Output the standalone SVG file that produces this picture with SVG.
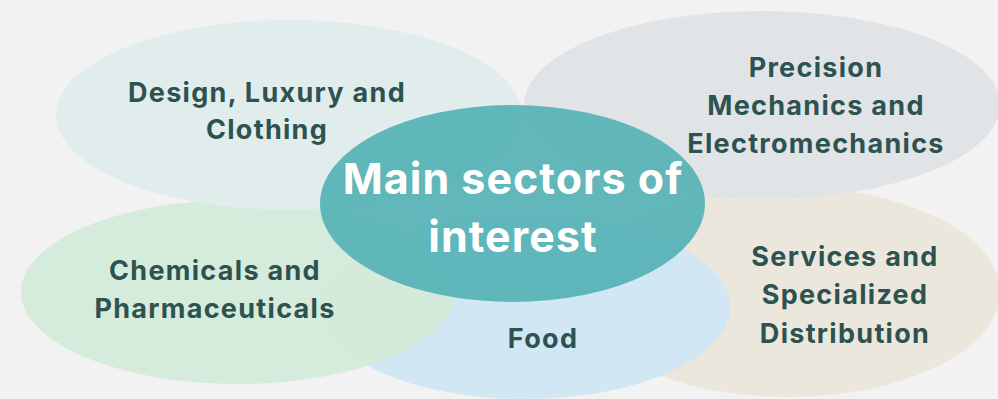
<svg xmlns="http://www.w3.org/2000/svg" width="998" height="399" viewBox="0 0 998 399">
  <style>
    .sector { font-family: Inter, "Open Sans", "Liberation Sans", sans-serif; font-weight: 700; font-size: 27px; letter-spacing: 1.3px; fill: #2d5250; text-anchor: middle; }
    .core { font-family: Inter, "Open Sans", "Liberation Sans", sans-serif; font-weight: 700; font-size: 43px; letter-spacing: 1px; fill: #ffffff; text-anchor: middle; }
  </style>
  <rect width="998" height="399" fill="#f2f2f2"/>

  <!-- outer sector bubbles, back to front -->
  <g id="services">
    <ellipse cx="788" cy="292" rx="212" ry="105" fill="#ebe7dd"/>
    <text class="sector" x="845"><tspan y="266">Services and</tspan><tspan x="845" y="304">Specialized</tspan><tspan x="845" y="343">Distribution</tspan></text>
  </g>
  <g id="food">
    <ellipse cx="525" cy="307" rx="205" ry="92" fill="#d0e6f4" fill-opacity="0.97"/>
    <text class="sector" x="543" y="348">Food</text>
  </g>
  <g id="chemicals">
    <ellipse cx="238" cy="292" rx="217" ry="92" fill="#d4eadb" fill-opacity="0.97"/>
    <text class="sector" x="215"><tspan y="280">Chemicals and</tspan><tspan x="215" y="318">Pharmaceuticals</tspan></text>
  </g>
  <g id="design">
    <ellipse cx="289" cy="115" rx="233" ry="95" fill="#e0ecec" fill-opacity="0.97"/>
    <text class="sector" x="267"><tspan y="102">Design, Luxury and</tspan><tspan x="267" y="139">Clothing</tspan></text>
  </g>
  <g id="precision">
    <ellipse cx="762" cy="105" rx="238" ry="94" fill="#dfe3e6" fill-opacity="0.95"/>
    <text class="sector" x="816"><tspan y="77">Precision</tspan><tspan x="816" y="115">Mechanics and</tspan><tspan x="816" y="153">Electromechanics</tspan></text>
  </g>

  <!-- central bubble -->
  <g id="main">
    <ellipse cx="512.5" cy="203.5" rx="192.5" ry="98.5" fill="#55b2b5" fill-opacity="0.92"/>
    <text class="core" x="513"><tspan y="194">Main sectors of</tspan><tspan x="513" y="252">interest</tspan></text>
  </g>
</svg>
